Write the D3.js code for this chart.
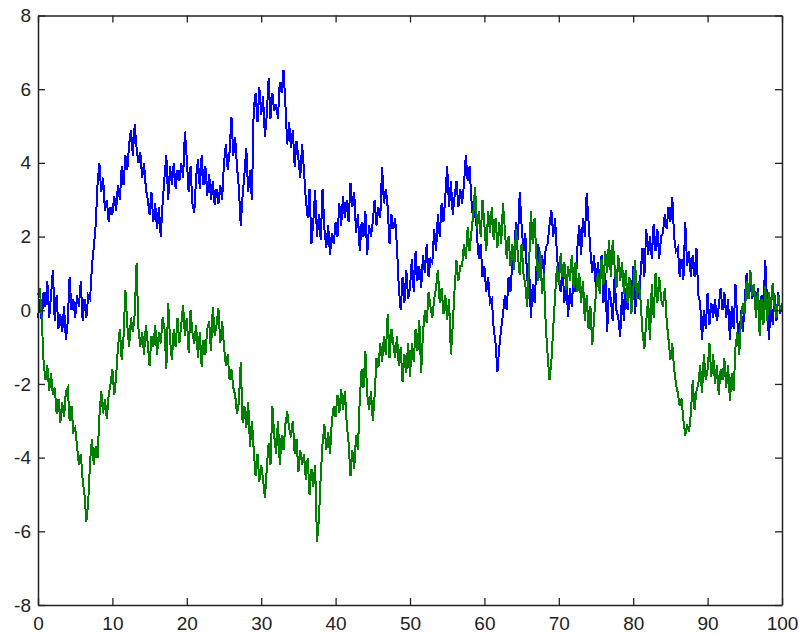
<!DOCTYPE html>
<html>
<head>
<meta charset="utf-8">
<script src="https://cdn.jsdelivr.net/npm/d3@7"></script>
<style>
  html, body { margin: 0; padding: 0; background: #fff; }
  svg { display: block; }
  .tick text { font-family: "Liberation Sans", Arial, sans-serif; font-size: 19px; fill: #222; }
</style>
</head>
<body>
<svg id="chart" width="799" height="635"></svg>
<script>
// ---- data ----
const xDomain = [0, 100];
const yDomain = [-8, 8];
const xStep = 0.25;
const xTickValues = [0, 10, 20, 30, 40, 50, 60, 70, 80, 90, 100];
const yTickValues = [-8, -6, -4, -2, 0, 2, 4, 6, 8];

// series 1 (blue), sampled every 0.25 from x = 0 to 100
const seriesBlue = [
  -0.2, 0.3, -0.3, 0.5,   0.1, 0.8, -0.2, 0.4,   1.1, -0.3, 0.4, -0.5,   -0.1, -0.6, 0.1, -0.8,
  -0.3, 0.9, 0.0, 0.3,    -0.2, 0.4, 0.1, 0.8,   -0.3, 0.3, -0.2, 0.4,   0.3, 1.2, 1.7, 2.3,
  3.4, 4.0, 3.2, 3.6,     2.7, 3.0, 2.4, 2.8,    2.6, 3.1, 2.7, 3.4,     3.0, 3.9, 3.4, 4.2,
  3.8, 4.5, 4.9, 4.2,     5.05, 4.4, 4.0, 4.3,   3.6, 4.0, 3.3, 3.0,     2.6, 3.2, 2.4, 2.9,
  2.2, 2.8, 2.0, 2.9,     3.6, 4.2, 3.0, 3.9,    3.4, 4.0, 3.3, 3.8,     3.5, 4.0, 3.6, 4.85,
  4.1, 3.2, 3.9, 2.9,     2.65, 3.6, 4.1, 3.3,   4.2, 3.4, 3.9, 3.1,     3.7, 3.0, 3.5, 2.85,
  3.3, 2.9, 3.4, 3.0,     4.0, 4.5, 3.8, 4.3,    5.25, 4.2, 4.7, 3.9,    3.3, 2.3, 3.1, 3.7,
  4.4, 3.2, 3.8, 3.0,     5.5, 5.9, 5.1, 6.05,   5.3, 5.8, 4.7, 5.3,     6.3, 5.2, 5.9, 5.4,
  5.6, 5.2, 6.2, 5.9,     6.52, 5.6, 4.5, 5.1,   4.4, 4.9, 3.9, 4.6,     4.1, 3.6, 4.5, 3.8,
  3.0, 2.5, 3.3, 1.8,     2.4, 3.27, 2.0, 2.6,   1.9, 3.3, 2.2, 1.7,     2.3, 1.5, 2.1, 1.8,
  2.4, 2.0, 2.9, 2.3,     3.1, 2.5, 3.0, 2.4,    3.45, 2.8, 3.2, 2.1,    2.6, 1.6, 2.4, 2.0,
  2.7, 1.5, 2.3, 2.0,     2.4, 3.0, 2.3, 2.8,    2.5, 3.89, 2.9, 3.3,    2.8, 1.8, 2.6, 2.2,
  2.5, 1.7, 0.6, 0.0,     0.9, 0.2, 1.1, 0.3,    0.6, 1.4, 0.5, 1.6,     0.8, 1.2, 0.6, 1.5,
  1.0, 1.8, 0.9, 1.4,     1.3, 2.2, 1.6, 2.6,    2.0, 2.9, 2.4, 3.1,     3.9, 2.8, 3.5, 2.6,
  3.1, 3.5, 2.8, 3.3,     2.9, 3.4, 4.2, 3.5,    3.9, 3.0, 2.4, 3.2,     2.0, 1.4, 1.8, 0.9,
  1.2, 0.5, 0.9, 0.2,     0.3, -0.5, -0.9, -1.67, -1.0, -0.5, -0.1, 0.4, 0.0, 0.9, 0.5, 1.3,
  1.6, 2.4, 1.9, 3.2,     2.3, 1.6, 2.1, 0.8,    1.2, -0.2, 0.7, 0.2,    1.2, 1.8, 0.9, 1.5,
  1.0, 1.7, 1.8, 2.3,     2.73, 2.0, 2.5, 1.5,   0.9, 0.5, 1.2, 0.2,     0.8, -0.18, 0.6, 0.1,
  1.0, 0.5, 1.7, 2.3,     1.5, 2.5, 2.0, 3.17,   2.4, 1.6, 1.0, 1.5,     0.5, 1.3, 0.8, 1.5,
  0.2, 1.0, -0.6, 0.6,    0.3, -0.3, 0.9, 0.0,   -0.2, -0.72, 0.5, -0.3, 0.6, 0.0, 0.8, 0.2,
  1.2, -0.1, 0.7, 0.3,    1.0, 1.7, 0.9, 2.2,    1.5, 2.0, 1.4, 2.35,    1.6, 2.2, 1.4, 2.0,
  2.1, 2.6, 2.2, 2.8,     2.4, 3.07, 2.0, 1.6,   1.7, 0.9, 1.4, 0.83,    2.4, 1.2, 1.6, 0.9,
  1.5, 0.9, 1.7, 0.4,     0.2, -0.8, 0.0, -0.5,  0.47, -0.4, 0.2, -0.2,  0.3, -0.3, 0.1, 0.6,
  0.0, 0.5, -0.2, 0.3,    -0.8, 0.1, -0.5, 0.7,  -0.3, -1.0, 0.0, -0.6,  0.3, 1.0, 0.4, 0.8,
  0.3, 0.7, -0.1, 0.6,    -0.3, 0.4, 0.0, 1.36,  0.2, -0.8, 0.3, -0.4,   0.4, -0.3, 0.5, -0.1,
  0.2
];

// series 2 (green), sampled every 0.25 from x = 0 to 100
const seriesGreen = [
  0.4, 0.6, -0.2, -1.4,   -1.9, -1.5, -2.2, -1.7, -2.3, -2.1, -2.8, -2.4, -3.05, -2.5, -2.9, -2.2,
  -2.1, -3.0, -2.6, -3.3, -3.2, -3.7, -4.2, -3.9, -4.6, -5.0, -5.75, -5.2, -4.1, -3.5, -4.2, -3.7,
  -4.0, -2.9, -2.2, -2.8, -2.4, -2.95, -2.3, -2.0, -1.6, -2.3, -1.8, -1.0, -0.5, -1.35, -0.7, 0.55,
  -0.4, -1.0, -0.2, -0.6, -0.1, 1.28, -0.5, -1.0, -0.6, -1.2, -0.4, -0.9, -1.5, -0.7, -1.0, -0.4,
  -1.2, -0.6, -0.9, -0.2, -0.5, -1.6, 0.2, -0.8, -1.35, -0.5, -1.0, -0.2, -0.9, -0.4, 0.15, -0.7,
  -0.2, -1.15, 0.0, -0.6, -0.9, -0.4, -1.3, -0.6, -1.55, -0.8, -1.2, -0.5, -0.3, -1.1, 0.1, -0.7,
  -0.4, 0.05, -0.9, -0.3, -1.0, -1.5, -1.2, -1.9, -1.6, -2.1, -2.3, -2.8, -2.5, -1.4, -3.05, -2.6,
  -3.2, -2.5, -3.7, -3.0, -3.8, -4.5, -3.9, -4.65, -4.2, -4.6, -5.1, -4.3, -3.6, -4.2, -2.6, -3.4,
  -3.9, -3.0, -4.2, -3.4, -3.8, -3.1, -2.75, -3.2, -3.45, -3.0, -3.9, -3.5, -4.4, -3.8, -4.2, -3.9,
  -4.6, -4.0, -5.0, -4.3, -4.8, -4.2, -6.3, -5.7, -4.5, -3.6, -3.1, -3.8, -3.3, -3.9, -3.0, -2.6,
  -2.9, -2.3, -2.8, -2.15, -2.7, -2.2, -3.1, -3.6, -4.5, -3.8, -4.3, -3.4, -3.8, -2.4, -1.6, -2.1,
  -1.1, -2.3, -2.7, -2.2, -3.0, -2.3, -1.3, -1.55, -0.9, -1.4, -0.7, -1.2, -0.1, -1.3, -0.5, -0.9,
  -1.3, -0.7, -1.5, -1.0, -1.95, -1.2, -1.7, -0.9, -1.8, -0.9, -1.4, -0.5, -1.1, -0.27, -1.7, -0.6,
  0.0, -0.35, 0.5, 0.1,   -0.2, 0.3, 0.6, 1.1,   0.2, 0.6, -0.1, 0.4,    -0.25, 0.3, -1.2, -0.4,
  0.6, 1.35, 0.8, 1.2,    1.2, 1.8, 1.4, 2.25,   1.6, 2.1, 2.6, 3.35,    2.2, 2.7, 2.0, 3.0,
  2.3, 1.6, 2.7, 2.1,     2.8, 1.9, 2.5, 1.7,    2.4, 1.8, 2.9, 2.2,     1.4, 2.0, 1.2, 1.8,
  1.1, 2.2, 1.5, 0.95,    1.8, 1.0, 0.7, 0.1,    1.2, 2.7, 1.8, 2.5,     1.4, 0.8, 1.6, 0.45,
  1.0, -0.45, -1.2, -1.9, -1.4, -0.5, 0.4, 1.2,  0.7, 1.55, 0.9, 1.3,    0.55, 1.2, 0.8, 1.5,
  0.6, 1.3, 0.5, 1.0,     0.2, 0.8, -0.3, 0.4,   -0.5, 0.1, -0.95, -0.2, 0.5, 1.0, 0.45, 1.4,
  0.7, 1.6, 1.0, 1.9,     0.9, 1.9, 1.2, 0.6,    1.5, 0.8, 1.3, 0.45,    1.1, 0.2, 0.9, -0.1,
  0.5, 1.35, 0.3, 0.8,    0.25, -0.6, -1.05, -0.3, 0.3, -0.8, 0.7, -0.2, 1.0, 0.2, 0.9, 0.3,
  0.1, 0.6, -0.3, -0.8,   -1.35, -0.9, -1.6, -2.0, -2.25, -2.6, -2.4, -3.0, -3.4, -3.1, -3.3, -2.8,
  -1.9, -2.7, -2.2, -2.0, -1.5, -2.25, -1.2, -1.9, -1.6, -0.9, -1.8, -1.2, -2.0, -1.5, -2.3, -1.6,
  -1.9, -1.3, -2.1, -1.5, -2.45, -1.7, -2.2, -1.0, -0.6, -1.2, -0.2, 0.2, -0.1, 0.8, 0.3, 1.1,
  0.4, 0.7, -0.2, 0.5,    -0.7, 0.3, -0.4, 0.65, -0.3, 0.5, 0.0, 0.75,   0.1, -0.2, 0.4, 0.0,
  0.2
];

const seriesList = [
  { name: "blue", values: seriesBlue, color: "#0000ff" },
  { name: "green", values: seriesGreen, color: "#008000" }
];

// ---- layout ----
const svg = d3.select("#chart");
const margin = { left: 38, top: 15.5, right: 799 - 782, bottom: 635 - 605 };
const W = 799, H = 635;

const x = d3.scaleLinear().domain(xDomain).range([margin.left, W - margin.right]);
const y = d3.scaleLinear().domain(yDomain).range([H - margin.bottom, margin.top]);

const fmt = d => String(d).replace("\u2212", "-");

const line = d3.line()
  .x((d, i) => x(xDomain[0] + i * xStep))
  .y(d => y(d));

svg.append("g").attr("class", "series")
  .selectAll("path")
  .data(seriesList)
  .join("path")
  .attr("d", d => line(d.values))
  .attr("fill", "none")
  .attr("stroke", d => d.color)
  .attr("stroke-width", 2)
  .attr("stroke-linejoin", "miter")
  .attr("shape-rendering", "crispEdges");

const tickLen = 7;
function styleAxis(g) {
  g.selectAll(".domain").attr("stroke", "#222").attr("stroke-width", 1.5);
  g.selectAll(".tick line").attr("stroke", "#222").attr("stroke-width", 1.3);
}

svg.append("g")
  .attr("transform", `translate(0,${y(yDomain[0])})`)
  .call(d3.axisBottom(x).tickValues(xTickValues).tickFormat(fmt)
    .tickSizeInner(-tickLen).tickSizeOuter(0).tickPadding(12))
  .call(styleAxis)
  .call(g => g.selectAll(".tick text").attr("font-size", null).attr("font-family", null));

svg.append("g")
  .attr("transform", `translate(0,${y(yDomain[1])})`)
  .call(d3.axisTop(x).tickValues(xTickValues).tickFormat("")
    .tickSizeInner(-tickLen).tickSizeOuter(0))
  .call(styleAxis);

svg.append("g")
  .attr("transform", `translate(${x(xDomain[0])},0)`)
  .call(d3.axisLeft(y).tickValues(yTickValues).tickFormat(fmt)
    .tickSizeInner(-tickLen).tickSizeOuter(0).tickPadding(7))
  .call(styleAxis)
  .call(g => g.selectAll(".tick text").attr("font-size", null).attr("font-family", null));

svg.append("g")
  .attr("transform", `translate(${x(xDomain[1])},0)`)
  .call(d3.axisRight(y).tickValues(yTickValues).tickFormat("")
    .tickSizeInner(-tickLen).tickSizeOuter(0))
  .call(styleAxis);
</script>
</body>
</html>
